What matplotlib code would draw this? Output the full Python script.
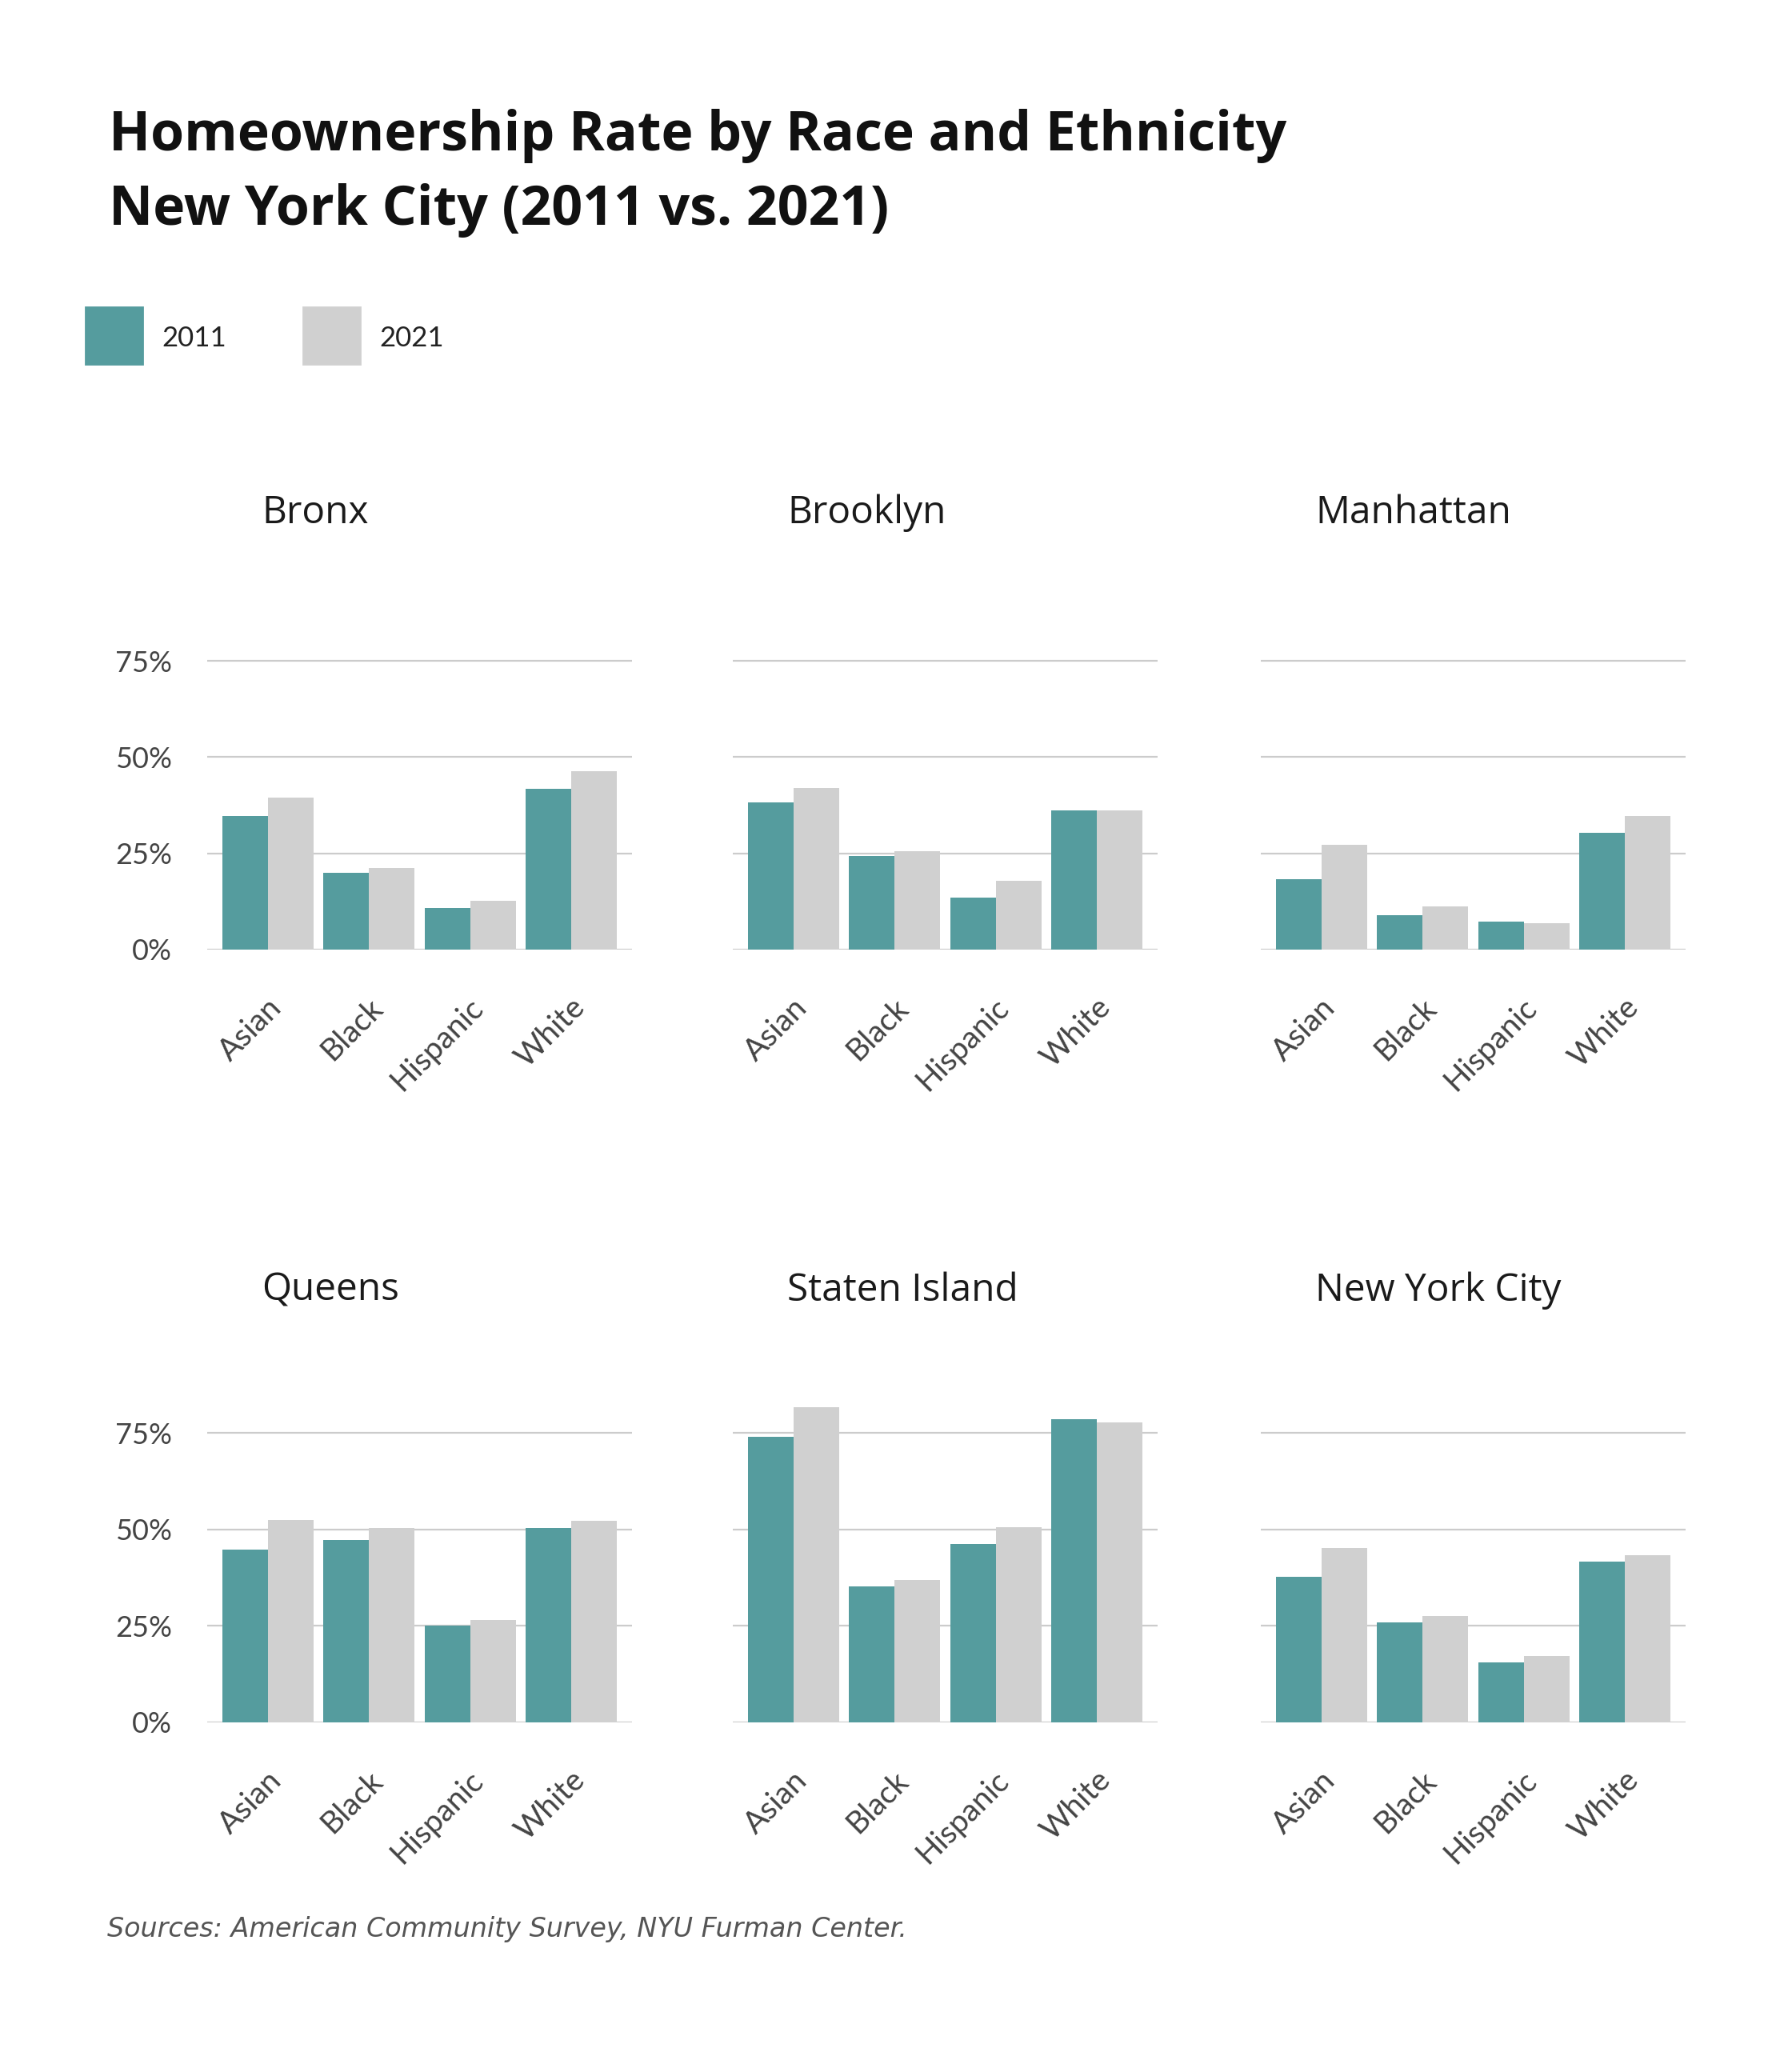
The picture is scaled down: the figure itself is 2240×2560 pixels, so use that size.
import matplotlib
matplotlib.use('Agg')
import matplotlib.pyplot as plt
import matplotlib.transforms as mtransforms
import numpy as np

# data (homeownership rate, %)
categories = ['Asian', 'Black', 'Hispanic', 'White']
boroughs = ['Bronx', 'Brooklyn', 'Manhattan', 'Queens', 'Staten Island', 'New York City']
years = ['2011', '2021']

bronx_2011 = [34.7, 19.9, 10.8, 41.8]
bronx_2021 = [39.5, 21.2, 12.7, 46.3]
brooklyn_2011 = [38.2, 24.3, 13.5, 36.1]
brooklyn_2021 = [42.0, 25.6, 17.9, 36.1]
manhattan_2011 = [18.3, 8.9, 7.3, 30.3]
manhattan_2021 = [27.2, 11.2, 6.9, 34.7]
queens_2011 = [44.8, 47.3, 25.0, 50.4]
queens_2021 = [52.5, 50.4, 26.6, 52.3]
staten_2011 = [74.0, 35.3, 46.3, 78.6]
staten_2021 = [81.7, 36.9, 50.6, 77.6]
nyc_2011 = [37.8, 25.9, 15.6, 41.7]
nyc_2021 = [45.2, 27.6, 17.2, 43.4]

yticks = [0, 25, 50, 75]

series = {
    'Bronx': (bronx_2011, bronx_2021),
    'Brooklyn': (brooklyn_2011, brooklyn_2021),
    'Manhattan': (manhattan_2011, manhattan_2021),
    'Queens': (queens_2011, queens_2021),
    'Staten Island': (staten_2011, staten_2021),
    'New York City': (nyc_2011, nyc_2021),
}

TEAL = '#559c9e'
GREY = '#d0d0d0'
GRID = '#cccccc'
TICK = '#444444'

W, H = 2240, 2560
DPI = 200
fig = plt.figure(figsize=(W / DPI, H / DPI), dpi=DPI)
fig.patch.set_facecolor('white')

# pixel layout
col_left = [259, 916, 1576]
ax_w = 531
row_zero = [1187, 2153]          # y pixel of 0%
px_per_pct = [361 / 75, 362 / 75]
ymax = 90
title_y = [641, 1613]

for i, name in enumerate(boroughs):
    r, c = divmod(i, 3)
    h = px_per_pct[r] * ymax
    ax = fig.add_axes([col_left[c] / W, 1 - row_zero[r] / H, ax_w / W, h / H])
    v11, v21 = series[name]
    x = np.arange(len(categories))
    ax.bar(x - 0.225, v11, width=0.45, color=TEAL, zorder=2)
    ax.bar(x + 0.225, v21, width=0.45, color=GREY, zorder=2)
    ax.set_xlim(-0.6, 3.6)
    ax.set_ylim(0, ymax)
    ax.set_yticks(yticks)
    ax.yaxis.grid(True, color=GRID, linewidth=0.8, zorder=0)
    ax.set_axisbelow(True)
    for s in ax.spines.values():
        s.set_visible(False)
    ax.tick_params(axis='both', length=0)
    ax.set_xticks([])
    if c == 0:
        ax.set_yticklabels([f'{t}%' for t in yticks], fontsize=13, color=TICK,
                           fontfamily='Lato')
        ax.tick_params(axis='y', pad=15.8)
    else:
        ax.set_yticklabels([])
    # rotated category labels
    trans = mtransforms.offset_copy(ax.get_xaxis_transform(), fig=fig,
                                    x=4, y=-24, units='points')
    for xi, lab in zip(x, categories):
        ax.text(xi, 0, lab, transform=trans, rotation=45, rotation_mode='anchor',
                ha='right', va='center', fontsize=14, color=TICK, fontfamily='Lato')
    # panel title
    fig.text((col_left[c] + 68) / W, 1 - title_y[r] / H, name, fontsize=17.2,
             color='#1a1a1a', fontfamily='Open Sans', va='center', ha='left')

# main title
fig.text(136 / W, 1 - 170 / H, 'Homeownership Rate by Race and Ethnicity',
         fontsize=24.5, fontweight='bold', fontfamily='Open Sans', color='#111111', va='center')
fig.text(136 / W, 1 - 263 / H, 'New York City (2011 vs. 2021)',
         fontsize=24.5, fontweight='bold', fontfamily='Open Sans', color='#111111', va='center')

# legend
for (x0, col), yr, tx in zip([(107, TEAL), (379, GREY)], years, [202, 474]):
    fig.patches.append(plt.Rectangle((x0 / W, 1 - 455 / H), 71 / W, 71 / H,
                                     transform=fig.transFigure, color=col, figure=fig))
    fig.text(tx / W, 1 - 423 / H, yr, fontsize=12.5, fontfamily='Lato',
             color='#222222', va='center')

# source
fig.text(134 / W, 1 - 2412 / H, 'Sources: American Community Survey, NYU Furman Center.',
         fontsize=12, fontstyle='italic', fontfamily='DejaVu Sans', color='#555555',
         va='center')

fig.savefig('out.png', dpi=DPI, facecolor='white')
